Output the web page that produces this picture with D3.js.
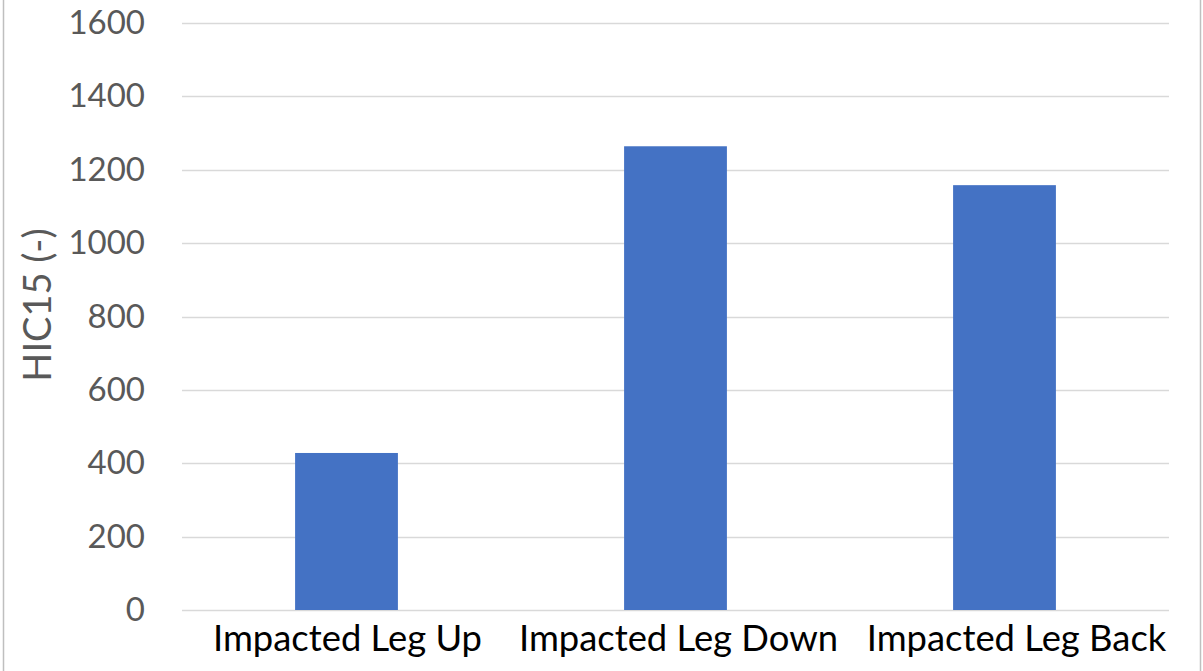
<!DOCTYPE html>
<html>
<head>
<meta charset="utf-8">
<script src="https://cdn.jsdelivr.net/npm/d3@7"></script>
<style>
  html, body { margin: 0; padding: 0; background: #fff; }
  svg { display: block; }
</style>
</head>
<body>
<svg id="chart" width="1203" height="671"></svg>
<script>
// Head injury criterion per impact orientation
const categories = ["Impacted Leg Up", "Impacted Leg Down", "Impacted Leg Back"];
const hic15 = [428, 1264, 1158];
const yTicks = [0, 200, 400, 600, 800, 1000, 1200, 1400, 1600];
const yTitle = "HIC15 (-)";

const W = 1203, H = 671;
const margin = { left: 182, right: W - 1169, top: 23, bottom: H - 610 };
const font = "Lato, 'Open Sans', sans-serif";

const svg = d3.select("#chart");

// chart frame
svg.append("rect")
  .attr("x", 3.5).attr("y", -2)
  .attr("width", 1197).attr("height", H + 4)
  .attr("fill", "#fff").attr("stroke", "#bfbfbf").attr("stroke-width", 1.5);

const x = d3.scaleBand()
  .domain(categories)
  .range([margin.left, W - margin.right])
  .paddingInner(0.6875)
  .paddingOuter(0.34375);

const y = d3.scaleLinear()
  .domain([0, 1600])
  .range([H - margin.bottom, margin.top]);

// gridlines
svg.append("g")
  .selectAll("line")
  .data(yTicks)
  .join("line")
  .attr("x1", margin.left).attr("x2", W - margin.right)
  .attr("y1", d => Math.round(y(d)) + 0.5).attr("y2", d => Math.round(y(d)) + 0.5)
  .attr("stroke", "#d9d9d9").attr("stroke-width", 1.3);

// y axis labels
const yAxis = d3.axisLeft(y).tickValues(yTicks).tickFormat(d3.format("d")).tickSize(0).tickPadding(0);
const gy = svg.append("g")
  .attr("transform", `translate(145,0)`)
  .call(yAxis);
gy.select(".domain").remove();
gy.selectAll("text")
  .attr("font-family", font).attr("font-size", 33)
  .attr("fill", "#595959");

// bars
svg.append("g")
  .selectAll("rect")
  .data(categories.map((c, i) => ({ c, v: hic15[i] })))
  .join("rect")
  .attr("x", d => x(d.c))
  .attr("width", x.bandwidth())
  .attr("y", d => y(d.v))
  .attr("height", d => y(0) - y(d.v))
  .attr("fill", "#4472c4");

// category labels (the last one nudged right, as the label spills past its band)
const xAxis = d3.axisBottom(x).tickSize(0).tickPadding(0);
const gx = svg.append("g")
  .attr("transform", `translate(0,${H - margin.bottom})`)
  .call(xAxis);
gx.select(".domain").remove();
gx.selectAll("text")
  .attr("dy", null)
  .attr("y", 41)
  .attr("x", (d, i) => i === categories.length - 1 ? 12 : (i === 1 ? 3 : 1))
  .attr("font-family", font).attr("font-size", 36.4)
  .attr("fill", "#000");

// y axis title
svg.append("text")
  .attr("transform", "translate(51,305) rotate(-90)")
  .attr("text-anchor", "middle")
  .attr("font-family", font).attr("font-size", 38)
  .attr("fill", "#595959")
  .text(yTitle);
</script>
</body>
</html>
